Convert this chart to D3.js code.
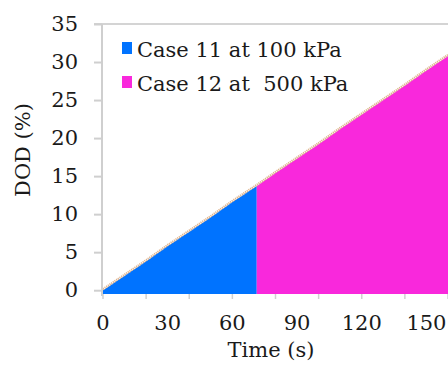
<!DOCTYPE html>
<html>
<head>
<meta charset="utf-8">
<script src="https://cdn.jsdelivr.net/npm/d3@7"></script>
<style>
  body { margin: 0; background: #fff; }
  text { font-family: "DejaVu Serif", serif; fill: #1a1a1a; }
</style>
</head>
<body>
<svg width="448" height="365"></svg>
<script>
// values
var time11 = [0, 10, 20, 30, 40, 50, 60, 71.3];
var dod11 = [0, 1.9, 3.8, 5.8, 7.7, 9.6, 11.6, 13.7];
var time12 = [71.3, 80, 90, 100, 110, 120, 130, 140, 150, 160];
var dod12 = [13.7, 15.4, 17.3, 19.2, 21.2, 23.1, 25.0, 26.9, 28.9, 30.8];
var seriesNames = ["Case 11 at 100 kPa", "Case 12 at\u00a0 500 kPa"];
var seriesColors = ["#0073ff", "#f928dc"];
var xLabels = [0, 30, 60, 90, 120, 150];
var xTickMarks = [0, 20, 40, 60, 80, 100, 120, 140, 160];
var yLabels = [0, 5, 10, 15, 20, 25, 30, 35];

var fs = "21px";
var svg = d3.select("svg");
var x = d3.scaleLinear().domain([0, 160]).range([103, 448]);
var y = d3.scaleLinear().domain([-0.5, 35]).range([294, 24]);

function pts(t, v) { return t.map(function(d, i) { return [d, v[i]]; }); }
var s11 = pts(time11, dod11), s12 = pts(time12, dod12);

var area = d3.area()
    .x(function(d) { return x(d[0]); })
    .y0(y(-0.5))
    .y1(function(d) { return y(d[1]); });

svg.append("path").datum(s11).attr("d", area).attr("fill", seriesColors[0]);
svg.append("path").datum(s12).attr("d", area).attr("fill", seriesColors[1]);

// thin stippled line on top of the fill
var line = d3.line().x(function(d) { return x(d[0]); }).y(function(d) { return y(d[1]) - 1; });
svg.append("path").datum(s11.concat(s12.slice(1))).attr("d", line)
    .attr("fill", "none").attr("stroke", "#dfb48e").attr("stroke-width", 2.4)
    .attr("stroke-dasharray", "1.2,0.8");

// top border line
svg.append("line").attr("x1", 94).attr("x2", 448).attr("y1", y(35)).attr("y2", y(35))
    .attr("stroke", "#d4d4d4").attr("stroke-width", 2);

// y axis
var yAxis = svg.append("g").attr("transform", "translate(" + 102 + ",0)")
    .call(d3.axisLeft(y).tickValues(yLabels).tickSize(8).tickPadding(16));
yAxis.select(".domain").attr("stroke", "#cfcfcf").attr("stroke-width", 2)
    .attr("d", "M0," + y(35) + "V" + (y(-0.5) + 2));
yAxis.selectAll(".tick line").attr("stroke", "#cfcfcf").attr("stroke-width", 2);
yAxis.selectAll("text").style("font-family", "DejaVu Serif").style("font-size", fs)
    .attr("fill", "#1a1a1a");

// x axis: tick marks every 20, labels every 30
var xAxis = svg.append("g").attr("transform", "translate(0," + y(-0.5) + ")");
xAxis.selectAll("line.tm").data(xTickMarks).enter().append("line")
    .attr("x1", function(d) { return x(d); }).attr("x2", function(d) { return x(d); })
    .attr("y1", 0).attr("y2", 5).attr("stroke", "#d0d0d0").attr("stroke-width", 1.5);
xAxis.selectAll("text").data(xLabels).enter().append("text")
    .attr("x", function(d) { return x(d); }).attr("y", 36)
    .attr("text-anchor", "middle").style("font-size", fs)
    .text(function(d) { return d; });

// axis titles
svg.append("text").attr("x", 271).attr("y", 357).attr("text-anchor", "middle")
    .style("font-size", fs).text("Time (s)");
svg.append("text").attr("transform", "translate(30,150) rotate(-90)")
    .attr("text-anchor", "middle").style("font-size", fs).text("DOD (%)");

// legend
var leg = svg.append("g");
seriesNames.forEach(function(n, i) {
    var yy = 57 + i * 34;
    leg.append("rect").attr("x", 122).attr("y", yy - 15).attr("width", 10).attr("height", 12)
        .attr("fill", seriesColors[i]);
    leg.append("text").attr("x", 137).attr("y", yy).style("font-size", fs).text(n);
});
</script>
</body>
</html>
